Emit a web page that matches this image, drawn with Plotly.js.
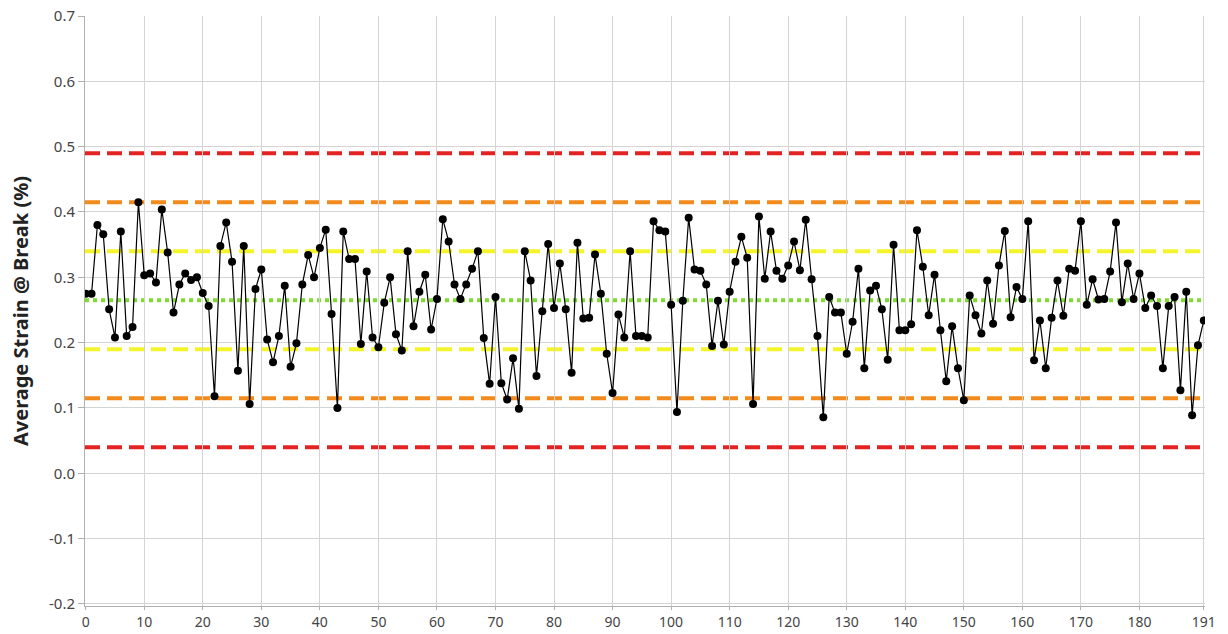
<!DOCTYPE html>
<html>
<head>
<meta charset="utf-8">
<script src="https://cdn.plot.ly/plotly-3.0.1.min.js"></script>
<style>html,body{margin:0;padding:0;background:#fff;}#chart{width:1228px;height:634px;}</style>
</head>
<body>
<div id="chart"></div>
<script>
// Sample numbers run 0..191 (192 samples)
const strainValues = [
0.275,0.275,0.380,0.366,0.251,0.208,0.370,0.210,0.224,0.415,
0.303,0.306,0.292,0.404,0.338,0.246,0.289,0.306,0.296,0.300,
0.276,0.256,0.118,0.348,0.384,0.324,0.157,0.348,0.106,0.282,
0.312,0.205,0.170,0.210,0.287,0.163,0.199,0.289,0.334,0.300,
0.345,0.373,0.244,0.100,0.370,0.328,0.328,0.198,0.309,0.208,
0.193,0.261,0.300,0.213,0.188,0.340,0.225,0.278,0.304,0.220,
0.267,0.389,0.355,0.289,0.267,0.289,0.313,0.340,0.207,0.137,
0.270,0.138,0.113,0.176,0.099,0.340,0.295,0.149,0.248,0.351,
0.253,0.321,0.251,0.154,0.353,0.237,0.238,0.335,0.275,0.183,
0.123,0.243,0.208,0.340,0.210,0.210,0.208,0.386,0.372,0.370,
0.258,0.094,0.264,0.391,0.312,0.310,0.289,0.195,0.264,0.197,
0.278,0.324,0.362,0.330,0.106,0.393,0.298,0.370,0.310,0.298,
0.318,0.355,0.311,0.388,0.297,0.210,0.086,0.270,0.246,0.246,
0.183,0.232,0.313,0.161,0.280,0.287,0.251,0.174,0.350,0.219,
0.219,0.228,0.372,0.316,0.242,0.304,0.219,0.141,0.225,0.161,
0.112,0.272,0.242,0.214,0.295,0.229,0.318,0.371,0.239,0.285,
0.267,0.386,0.173,0.234,0.161,0.238,0.295,0.241,0.313,0.310,
0.386,0.258,0.297,0.266,0.267,0.309,0.384,0.262,0.321,0.267,
0.306,0.253,0.272,0.256,0.161,0.256,0.270,0.127,0.278,0.089,
0.196,0.234
];
const sampleNumbers = strainValues.map((v, i) => i);

// Control limits
const centerLine = 0.265;
const sigma1Limits = [0.340, 0.190];
const sigma2Limits = [0.415, 0.115];
const sigma3Limits = [0.490, 0.040];

const xTickVals = [0,10,20,30,40,50,60,70,80,90,100,110,120,130,140,150,160,170,180,191];
const yTickVals = [-0.2,-0.1,0.0,0.1,0.2,0.3,0.4,0.5,0.6,0.7];
const yTickText = ['-0.2','-0.1','0.0','0.1','0.2','0.3','0.4','0.5','0.6','0.7'];

function hline(y, color, dash) {
  return {type:'line', xref:'paper', x0:0, x1:1, yref:'y', y0:y, y1:y,
          line:{color:color, width:4, dash:dash}, layer:'between'};
}

const shapes = [];
sigma3Limits.forEach(v => shapes.push(hline(v, '#E32322', '15px,7px')));
sigma2Limits.forEach(v => shapes.push(hline(v, '#F28A1C', '15px,7px')));
sigma1Limits.forEach(v => shapes.push(hline(v, '#F4F42A', '15px,7px')));
shapes.push(hline(centerLine, '#7EDC2E', '4px,4px'));

const trace = {
  x: sampleNumbers, y: strainValues, type:'scatter', mode:'lines+markers',
  line:{color:'#000', width:1.2},
  marker:{color:'#000', size:8},
  showlegend:false, hoverinfo:'x+y'
};

const layout = {
  width:1228, height:634,
  margin:{l:85, r:23, t:16, b:28, pad:0},
  paper_bgcolor:'#fff', plot_bgcolor:'#fff',
  font:{family:'"Noto Sans", "DejaVu Sans", sans-serif', color:'#444'},
  xaxis:{range:[-0.12,191.2], tickvals:xTickVals, ticktext:xTickVals.map(String),
         showgrid:true, gridcolor:'#d4d4d4', gridwidth:1, zeroline:false,
         showline:true, linecolor:'#b0b0b0', ticks:'outside', ticklen:3, tickcolor:'#b0b0b0',
         tickfont:{size:14, color:'#444'}},
  yaxis:{range:[-0.2031,0.7], tickvals:yTickVals, ticktext:yTickText,
         showgrid:true, gridcolor:'#d4d4d4', gridwidth:1, zeroline:false,
         showline:true, linecolor:'#b0b0b0', ticks:'outside', ticklen:6, tickcolor:'#b0b0b0',
         tickfont:{size:15, color:'#444'},
         title:{text:'<b>Average Strain @ Break (%)</b>', font:{size:20, color:'#222'}, standoff:14}},
  shapes: shapes
};

Plotly.newPlot('chart', [trace], layout, {staticPlot:true, displayModeBar:false});
</script>
</body>
</html>
